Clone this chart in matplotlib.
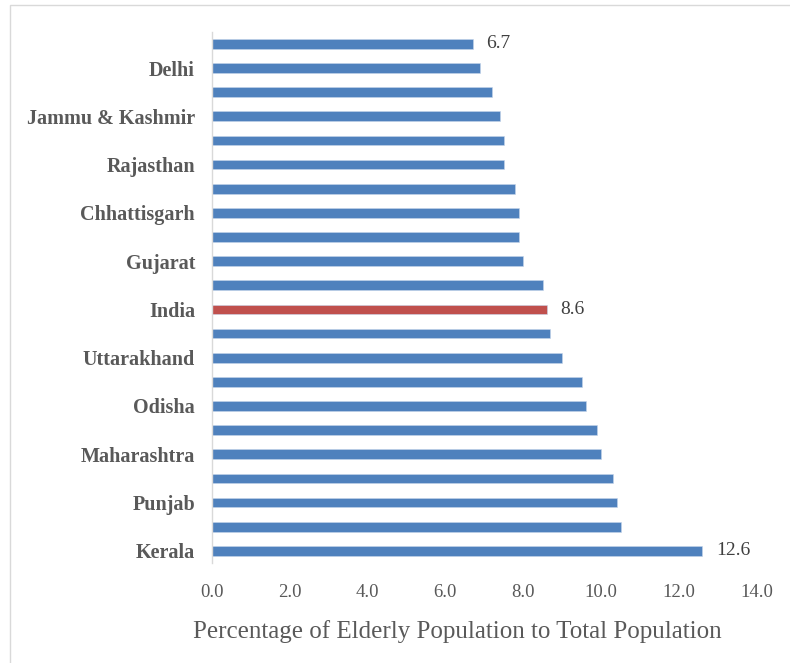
import matplotlib.pyplot as plt
from matplotlib.patches import Rectangle

# states from bottom (Kerala) to top; only every other name is shown on the axis
states = ["Kerala", "Tamil Nadu", "Punjab", "Himachal Pradesh", "Maharashtra",
          "Andhra Pradesh", "Odisha", "Karnataka", "Uttarakhand", "Haryana",
          "India", "West Bengal", "Gujarat", "Madhya Pradesh", "Chhattisgarh",
          "Uttar Pradesh", "Rajasthan", "Bihar", "Jammu & Kashmir", "Jharkhand",
          "Delhi", "Assam"]
values = [12.6, 10.5, 10.4, 10.3, 10.0, 9.9, 9.6, 9.5, 9.0, 8.7,
          8.6, 8.5, 8.0, 7.9, 7.9, 7.8, 7.5, 7.5, 7.4, 7.2,
          6.9, 6.7]
shown_labels = ["Kerala", "Punjab", "Maharashtra", "Odisha", "Uttarakhand",
                "India", "Gujarat", "Chhattisgarh", "Rajasthan",
                "Jammu & Kashmir", "Delhi"]
labelled_values = ["12.6", "8.6", "6.7"]
xticks = [0, 2, 4, 6, 8, 10, 12, 14]

blue = "#4F81BD"
red = "#C0504D"
grey = "#595959"
serif = ["Liberation Serif", "DejaVu Serif"]

fig = plt.figure(figsize=(7.9, 6.63), dpi=100)
ax = fig.add_axes([0.268, 0.151, 0.690, 0.801])

colors = [red if s == "India" else blue for s in states]
pos = list(range(len(states)))
ax.barh(pos, values, height=0.4, color=colors, edgecolor="#C6D5EA", linewidth=0.4)

ax.set_xlim(0, 14)
ax.set_ylim(-0.5, len(states) - 0.5)

ax.set_xticks(xticks)
ax.set_xticklabels(["%.1f" % t for t in xticks], fontsize=13.5, color=grey, family=serif)
ypos = [states.index(s) for s in shown_labels]
ax.set_yticks(ypos)
ax.set_yticklabels(shown_labels, fontsize=14.5, fontweight="bold", color=grey, family=serif)
ax.tick_params(axis="both", length=0)
ax.tick_params(axis="x", pad=15)
ax.tick_params(axis="y", pad=12)

for sp in ["top", "right", "bottom"]:
    ax.spines[sp].set_visible(False)
ax.spines["left"].set_color("#D9D9D9")
ax.spines["left"].set_linewidth(1)

# data labels on first, India and last bars
for s, txt in zip(["Kerala", "India", "Assam"], labelled_values):
    i = states.index(s)
    ax.text(values[i] + 0.35, i, txt, va="center", ha="left", fontsize=14,
            color="#404040", family=serif)

ax.set_xlabel("Percentage of Elderly Population to Total Population", fontsize=18,
              color=grey, family=serif)
ax.xaxis.set_label_coords(0.45, -0.107)

# chart area border (cropped on the right and bottom)
fig.patches.append(Rectangle((0.013, -0.1), 1.2, 1.092, transform=fig.transFigure,
                             fill=False, edgecolor="#D9D9D9", linewidth=1))

fig.savefig("out.png", dpi=100)
